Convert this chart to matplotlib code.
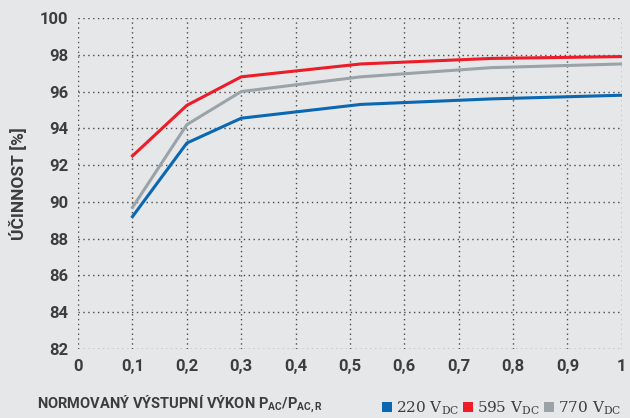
import matplotlib
matplotlib.use("Agg")
import matplotlib.pyplot as plt
from matplotlib.patches import Rectangle

# odečtené hodnoty z grafu
vykon = [0.1, 0.2, 0.3, 0.52, 0.76, 1.0]
u220 = [89.2, 93.2, 94.55, 95.3, 95.6, 95.8]
u595 = [92.5, 95.25, 96.8, 97.5, 97.8, 97.9]
u770 = [89.7, 94.2, 96.0, 96.8, 97.3, 97.5]

xticks = [0, 0.1, 0.2, 0.3, 0.4, 0.5, 0.6, 0.7, 0.8, 0.9, 1]
xlabels = ["0", "0,1", "0,2", "0,3", "0,4", "0,5", "0,6", "0,7", "0,8", "0,9", "1"]
yticks = list(range(82, 101, 2))
legenda = ["220", "595", "770"]

bg = "#e6e7e9"
txt = "#3d3d3d"
modra = "#0a67b2"
cervena = "#ec1c28"
seda = "#9aa3a8"
barvy = [modra, cervena, seda]

plt.rcParams["font.family"] = ["Roboto", "DejaVu Sans"]

fig = plt.figure(figsize=(6.3, 4.18), dpi=100, facecolor=bg)
ax = fig.add_axes([0.124, 0.165, 0.863, 0.792])
ax.set_facecolor(bg)

ax.plot(vykon, u220, color=modra, lw=2.2)
ax.plot(vykon, u770, color=seda, lw=2.2)
ax.plot(vykon, u595, color=cervena, lw=2.2)

ax.set_xlim(0, 1)
ax.set_ylim(82, 100)
ax.set_xticks(xticks)
ax.set_xticklabels(xlabels)
ax.set_yticks(yticks)
ax.grid(True, color="#4a4a4a", linestyle=(0, (1, 2.5)), lw=1)
ax.set_axisbelow(True)
for s in ax.spines.values():
    s.set_visible(False)
ax.tick_params(length=0, labelsize=12, labelcolor=txt, pad=7)
for t in ax.get_xticklabels() + ax.get_yticklabels():
    t.set_fontweight("bold")

ax.set_ylabel("ÚČINNOST [%]", fontsize=12.5, fontweight="bold", color=txt, labelpad=9)

fig.text(0.058, 0.022, r"NORMOVANÝ VÝSTUPNÍ VÝKON P$_\mathregular{AC}$/P$_\mathregular{AC,R}$",
         fontsize=10.5, fontweight="bold", color=txt)

# legenda ručně: čtverec + text
lx = [382, 463, 544]
for x0, napis, c in zip(lx, legenda, barvy):
    fig.add_artist(Rectangle((x0 / 630, 6 / 418), 10 / 630, 10 / 418,
                             transform=fig.transFigure, facecolor=c, edgecolor="none",
                             zorder=1))
    fig.text((x0 + 14) / 630, 6 / 418, napis + r" V$_\mathregular{DC}$",
             family=["DejaVu Serif"], fontsize=11, color=txt, zorder=2)

fig.savefig("out.png", dpi=100, facecolor=bg)
